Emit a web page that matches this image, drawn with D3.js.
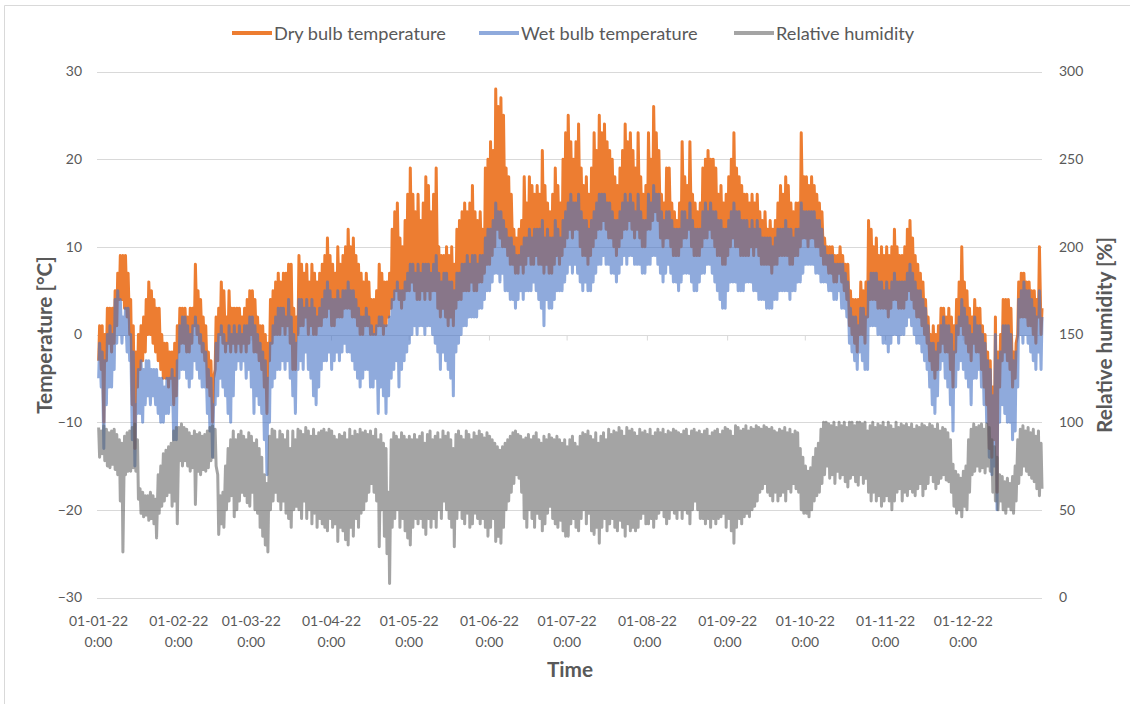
<!DOCTYPE html>
<html><head><meta charset="utf-8">
<script src="https://cdn.jsdelivr.net/npm/d3@7"></script>
<style>html,body{margin:0;padding:0;background:#fff;} svg{display:block;}</style>
</head><body><svg id="chart" width="1130" height="704"></svg>
<script>
// ---------- DATA (daily high / low, one value per day of 2022) ----------
const dryHi = [
 1,1,0,3,3,3,5,7,9,9,9,7,4,1,-2,0,1,2,4,6,5,4,3,3,0,-1,-1,-2,-2,-1,1,
 3,3,3,2,3,3,8,5,4,2,1,-2,-3,-5,2,3,6,5,2,5,3,3,3,3,2,3,4,5,
 5,4,2,1,1,0,-1,4,5,6,7,6,7,7,8,8,3,2,9,8,7,8,6,8,7,6,7,8,9,11,9,
 8,7,10,8,9,10,12,10,11,9,8,7,6,7,6,4,4,5,8,7,6,6,7,12,14,15,11,10,13,16,
 19,16,14,16,13,15,18,17,14,16,19,10,9,9,10,9,10,8,12,13,14,15,14,15,17,14,13,14,12,19,20,
 22,21,28,26,27,25,19,18,16,12,11,12,13,18,15,18,17,16,17,16,21,17,15,14,16,19,17,15,20,23,
 25,22,20,22,24,19,17,18,16,19,23,21,25,23,24,22,21,20,18,17,19,21,24,22,23,21,19,23,18,16,17,
 23,20,26,23,21,16,15,19,19,15,14,13,15,22,18,17,22,16,15,14,15,19,20,21,20,20,19,16,17,15,16,
 18,20,23,19,18,17,16,16,15,16,15,16,14,13,14,12,13,12,13,15,17,16,18,17,15,14,15,15,23,18,
 18,17,18,17,16,15,14,11,10,10,10,9,9,10,9,8,8,5,4,4,4,6,5,6,13,12,10,11,9,10,9,
 10,9,10,12,10,9,9,10,12,13,11,9,8,7,6,4,2,0,1,0,1,3,3,2,3,2,1,4,6,10,
 6,5,3,2,4,3,3,1,0,-2,-3,-6,2,-2,0,4,4,4,3,-2,-1,6,7,7,6,6,5,5,4,10,3
];
const dryLo = [
 -3,-4,-10,-3,-1,-2,-1,1,4,4,3,2,0,-8,-13,-6,-4,-3,-2,0,0,-1,-2,-3,-4,-5,-5,-6,-5,-8,-7,
 -2,-1,-1,-2,-2,-1,1,0,-1,-2,-3,-6,-7,-10,-4,-3,0,-1,-2,-1,-2,-1,-2,-1,-2,-1,-2,-1,
 0,-2,-2,-3,-4,-6,-9,-3,-1,0,0,0,1,0,1,-1,-4,-4,0,1,1,2,0,1,0,0,1,1,2,2,3,
 1,1,2,2,2,3,3,3,2,2,1,0,0,1,1,0,0,0,1,1,0,1,2,3,4,5,4,3,4,5,
 5,6,5,4,4,5,4,5,4,5,5,3,2,3,2,1,2,1,3,4,4,5,5,5,6,5,5,6,6,7,8,
 8,9,10,12,11,10,10,9,8,8,7,7,8,7,8,9,8,8,9,8,8,7,8,7,7,8,9,8,9,10,
 11,12,11,12,12,10,9,9,8,9,10,11,12,12,13,12,11,11,10,9,10,11,12,12,13,12,11,12,11,10,10,
 12,12,13,14,13,11,10,11,11,10,9,9,9,10,11,11,12,10,9,9,9,10,11,11,12,11,10,9,9,8,8,
 9,10,11,10,10,9,9,9,9,10,9,10,9,8,8,8,8,7,8,8,9,9,9,9,8,8,9,9,10,11,
 11,10,11,11,10,10,9,8,8,7,7,6,6,7,6,5,4,1,0,-1,-2,0,0,-1,2,4,4,4,3,3,3,
 3,2,3,4,4,3,3,3,4,5,4,3,2,2,1,0,-1,-3,-4,-5,-4,-2,-1,-2,-2,-4,-6,-2,0,1,
 0,-1,-2,-3,-1,-2,-2,-4,-6,-8,-13,-14,-12,-18,-6,-3,-2,-3,-4,-6,-5,0,2,2,2,1,1,0,-1,2,0
];
const wetHi = [
 -1,-2,-3,0,1,0,4,5,4,2,3,3,0,-2,-8,-4,-3,-4,-3,-3,-4,-4,-4,-5,-5,-6,-5,-5,-4,-5,-3,
 1,2,2,1,0,1,2,1,0,-1,-2,-4,-5,-8,-1,0,1,0,-1,1,0,1,0,1,0,1,1,2,
 2,1,0,-1,-2,-3,-5,-1,1,2,3,3,3,2,4,2,0,-1,4,4,3,4,3,4,3,2,3,4,5,6,5,
 4,4,5,4,5,5,6,5,5,4,3,2,2,3,2,1,0,1,2,2,1,1,2,4,5,6,5,5,6,7,
 8,8,7,8,7,8,8,8,7,8,9,7,6,7,7,6,6,5,7,7,8,8,9,8,9,9,8,9,9,11,12,
 12,13,15,14,14,13,12,11,11,10,9,9,10,11,11,12,11,12,12,12,13,11,12,11,11,13,12,11,13,14,
 15,16,15,15,16,14,13,13,12,13,14,15,16,16,16,15,15,14,13,13,14,15,16,15,16,15,14,16,14,13,13,
 16,15,17,16,16,14,13,14,14,13,12,12,12,14,14,13,15,13,12,12,12,14,15,14,15,14,14,13,13,12,12,
 13,14,15,14,14,13,13,13,12,13,12,13,12,11,11,11,11,10,11,12,12,12,13,12,12,11,12,12,15,14,
 14,14,14,14,13,13,12,10,9,9,9,8,8,8,8,7,6,3,2,2,1,3,3,2,6,7,7,7,6,6,5,
 6,5,6,7,6,6,6,6,7,8,7,6,5,5,4,3,1,-1,-1,-2,-1,1,2,1,1,0,-2,1,2,4,
 3,2,1,0,2,1,1,0,-1,-3,-4,-7,0,-3,-2,1,1,1,0,-3,-2,4,5,6,5,5,4,3,2,5,2
];
const wetLo = [
 -5,-6,-13,-8,-6,-6,-4,-1,0,-1,0,-2,-3,-12,-15,-9,-9,-10,-8,-7,-8,-7,-8,-9,-10,-10,-9,-9,-8,-12,-12,
 -5,-4,-4,-5,-6,-5,-3,-4,-5,-6,-6,-9,-11,-14,-8,-7,-5,-6,-7,-9,-10,-7,-4,-3,-4,-3,-5,-4,
 -6,-9,-7,-8,-9,-12,-16,-10,-6,-5,-4,-4,-3,-4,-3,-5,-7,-9,-4,-3,-4,-2,-4,-5,-7,-8,-6,-4,-3,-3,-2,
 -4,-3,-2,-3,-2,-1,-2,-2,-3,-4,-5,-6,-5,-4,-4,-6,-6,-5,-9,-6,-7,-9,-7,-5,-4,-3,-6,-4,-3,-2,
 -1,0,1,0,1,1,0,1,1,0,-1,-2,-4,-2,-3,-4,-5,-7,-2,-1,0,1,1,2,2,2,2,3,3,4,5,
 5,6,7,7,6,7,5,5,4,4,3,4,5,4,5,5,5,6,5,4,3,1,4,3,3,4,5,5,5,6,
 7,8,7,8,7,6,5,6,5,5,6,7,8,8,9,8,8,7,7,6,7,8,9,8,9,9,8,8,8,7,7,
 8,8,9,9,8,7,6,7,8,7,6,6,5,6,7,7,7,6,5,5,6,7,7,8,8,7,6,5,4,3,3,
 5,6,6,6,5,5,5,6,6,6,5,5,4,4,4,3,3,3,4,4,5,5,5,5,4,5,5,6,6,7,
 8,8,8,8,7,7,6,6,6,5,5,4,4,5,3,3,2,-1,-2,-3,-4,-2,-3,-4,-4,1,1,1,0,0,-1,
 -1,-2,-1,0,0,-1,0,0,1,2,1,0,-1,-1,-2,-3,-4,-6,-8,-9,-7,-4,-3,-5,-6,-8,-11,-6,-4,-3,
 -4,-5,-6,-8,-5,-5,-4,-6,-8,-10,-14,-16,-15,-20,-10,-8,-9,-10,-10,-12,-11,-6,0,-1,0,-1,-2,-3,-4,-2,-4
];
const rhHi = [
 97,95,98,96,94,95,96,93,90,88,92,94,95,97,99,90,62,60,58,58,60,58,56,70,75,82,84,86,88,95,97,
 97,99,97,96,94,92,95,93,94,92,93,95,97,98,96,70,58,60,75,85,90,95,90,93,95,92,90,94,
 92,88,90,85,80,70,65,92,96,95,90,95,93,90,95,85,95,90,96,95,93,97,95,92,96,92,94,95,96,94,96,
 95,92,90,93,92,94,90,96,92,95,93,96,94,95,93,95,92,96,90,93,88,85,60,90,94,92,90,94,92,90,
 92,90,93,90,92,94,88,93,95,90,92,94,90,95,92,94,90,85,93,95,92,90,95,93,90,94,92,95,93,91,94,
 92,90,88,86,84,86,88,90,92,94,95,93,92,90,91,93,90,92,94,90,88,92,90,93,91,90,92,90,88,90,
 86,90,92,88,86,92,94,93,95,92,90,94,88,92,94,90,96,93,95,94,97,95,92,97,95,96,94,92,96,94,95,
 93,96,92,94,96,94,96,93,95,94,96,95,94,93,95,96,92,95,96,94,95,93,95,96,92,94,95,96,93,95,97,
 96,95,92,98,97,95,96,98,95,97,96,98,97,96,98,97,96,97,95,94,96,95,97,94,96,93,95,94,85,80,
 75,72,74,80,85,88,96,100,100,99,98,100,97,100,98,100,97,100,100,98,100,100,99,100,95,98,100,97,99,98,100,
 97,100,98,96,100,97,99,98,99,97,99,96,98,97,99,98,97,99,98,96,99,95,97,96,94,90,76,72,70,68,
 72,75,90,96,99,97,98,99,96,99,97,90,86,80,70,69,66,68,65,69,75,90,96,98,95,97,94,96,92,95,88
];
const rhLo = [
 80,82,78,75,74,76,73,70,55,26,70,72,72,74,72,56,48,46,47,44,45,42,34,48,52,55,58,60,52,55,42,
 78,75,78,75,72,74,53,72,70,73,72,74,78,80,75,36,42,40,50,55,58,46,50,55,60,58,54,52,
 60,50,48,40,35,30,26,50,55,60,55,50,55,48,45,40,50,52,50,45,55,45,50,42,48,40,45,42,40,38,45,
 40,42,32,40,38,33,30,40,35,45,40,48,50,55,60,65,60,55,29,50,35,25,8,40,45,50,40,45,38,34,
 30,40,45,42,45,40,36,45,40,45,40,50,45,55,50,45,40,29,45,50,45,42,48,40,42,48,45,42,45,40,35,
 40,45,32,35,31,40,50,55,60,65,70,68,60,45,40,50,45,40,48,45,38,42,48,52,45,42,40,44,38,35,
 35,42,45,40,38,45,50,42,48,38,36,40,31,40,45,38,42,45,40,38,44,40,35,42,38,40,38,40,45,48,42,
 42,45,40,45,48,50,46,42,45,50,48,45,50,45,50,48,42,50,55,50,45,45,42,45,40,45,42,45,46,48,40,
 45,38,31,40,45,42,46,48,46,50,52,55,60,62,65,60,58,55,60,55,58,60,55,62,60,65,62,60,50,48,
 48,46,50,55,58,60,65,70,75,68,70,65,72,68,70,66,63,68,70,66,64,70,65,68,60,55,60,55,58,52,55,
 58,55,50,55,60,62,55,60,58,62,60,58,62,65,58,62,65,70,66,62,65,68,70,67,66,60,52,48,50,46,
 52,50,60,70,72,75,72,74,71,75,72,60,55,50,55,50,48,52,50,48,55,65,70,75,72,70,68,66,62,58,62
];

const seriesNames = ["Dry bulb temperature", "Wet bulb temperature", "Relative humidity"];
const seriesColors = ["#ED7D31", "#4472C4", "#595959"];
const seriesOpacity = [1, 0.6, 0.55];
const monthTicks = ["2022-01-01","2022-02-01","2022-03-01","2022-04-01","2022-05-01","2022-06-01",
                    "2022-07-01","2022-08-01","2022-09-01","2022-10-01","2022-11-01","2022-12-01"];
const monthLabels = ["01-01-22","01-02-22","01-03-22","01-04-22","01-05-22","01-06-22",
                     "01-07-22","01-08-22","01-09-22","01-10-22","01-11-22","01-12-22"];
const timeLabel = "0:00";
const tempTicks = [-30, -20, -10, 0, 10, 20, 30];
const rhTicks = [0, 50, 100, 150, 200, 250, 300];

// ---------- CHART ----------
const FONT = "Lato, 'Open Sans', sans-serif";
const TXT = "#595959";
const GRID = "#D9D9D9";
const svg = d3.select("#chart").attr("font-family", FONT);

const x = d3.scaleUtc()
  .domain([new Date(Date.UTC(2022, 0, 1)), new Date(Date.UTC(2023, 0, 1))])
  .range([98, 1043]);
const yT = d3.scaleLinear().domain([-30, 30]).range([597.5, 71.5]);
const yR = d3.scaleLinear().domain([0, 300]).range([597.5, 71.5]);
const plotL = 97, plotR = 1042;

function fit(str, target, weight) {
  const t = svg.append("text").attr("font-size", 100).attr("font-weight", weight || 400).text(str);
  const w = t.node().getComputedTextLength();
  t.remove();
  return 100 * target / w;
}
const fsTick = fit("01-01-22", 59);
const fsLeg = fit("Dry bulb temperature", 172);
const fsTitle = fit("Relative humidity [%]", 196, 700);

// frame
svg.append("path").attr("d", "M4.5,704 V5.5 H1130").attr("fill", "none").attr("stroke", GRID);

// gridlines
svg.append("g").selectAll("line").data(tempTicks).join("line")
  .attr("x1", plotL).attr("x2", plotR)
  .attr("y1", d => Math.round(yT(d)) + 0.5).attr("y2", d => Math.round(yT(d)) + 0.5)
  .attr("stroke", GRID).attr("stroke-width", 1);

const monthDates = monthTicks.map(s => new Date(s + "T00:00:00Z"));

// small month tick marks on the zero line
const tickAxis = svg.append("g").attr("transform", `translate(0,${Math.round(yT(0)) + 0.5})`)
  .call(d3.axisBottom(x).tickValues(monthDates).tickSize(5).tickFormat(""));
tickAxis.select(".domain").remove();
tickAxis.selectAll("line").attr("stroke", GRID);

// series
const day = 864e5, t0 = Date.UTC(2022, 0, 1);
function tempSeries(hi, lo) {
  const pts = [];
  hi.forEach((h, i) => {
    pts.push({ t: new Date(t0 + (i + 0.25) * day), v: lo[i] });
    pts.push({ t: new Date(t0 + (i + 0.62) * day), v: h });
  });
  return pts;
}
function rhSeries(hi, lo) {
  const pts = [];
  hi.forEach((h, i) => {
    pts.push({ t: new Date(t0 + (i + 0.25) * day), v: h });
    pts.push({ t: new Date(t0 + (i + 0.62) * day), v: lo[i] });
  });
  return pts;
}
const dryPts = tempSeries(dryHi, dryLo);
const wetPts = tempSeries(wetHi, wetLo);
const rhPts = rhSeries(rhHi, rhLo);

const lineT = d3.line().x(d => x(d.t)).y(d => yT(d.v));
const lineR = d3.line().x(d => x(d.t)).y(d => yR(d.v));

[[dryPts, lineT], [wetPts, lineT], [rhPts, lineR]].forEach(([pts, gen], i) => {
  svg.append("path").datum(pts)
    .attr("d", gen)
    .attr("fill", "none")
    .attr("stroke", seriesColors[i])
    .attr("stroke-opacity", seriesOpacity[i])
    .attr("stroke-width", 3)
    .attr("stroke-linejoin", "round");
});

// left axis
const gL = svg.append("g").attr("transform", "translate(82,0)")
  .call(d3.axisLeft(yT).tickValues(tempTicks).tickSize(0).tickPadding(0));
gL.attr("font-family", FONT).attr("font-size", fsTick);
gL.select(".domain").remove();
gL.selectAll("text").attr("fill", TXT);

// right axis
const gR = svg.append("g").attr("transform", "translate(1059,0)")
  .call(d3.axisRight(yR).tickValues(rhTicks).tickSize(0).tickPadding(0));
gR.attr("font-family", FONT).attr("font-size", fsTick);
gR.select(".domain").remove();
gR.selectAll("text").attr("fill", TXT);

// bottom labels (two lines)
const gB = svg.append("g").attr("transform", "translate(0,597.5)")
  .call(d3.axisBottom(x).tickValues(monthDates).tickSize(0).tickFormat((d, i) => monthLabels[i]));
gB.attr("font-family", FONT).attr("font-size", fsTick);
gB.select(".domain").remove();
gB.selectAll(".tick text").each(function (d, i) {
  const t = d3.select(this);
  t.text(null).attr("y", 0).attr("dy", null).attr("fill", TXT);
  t.append("tspan").attr("x", 0).attr("y", 28).text(monthLabels[i]);
  t.append("tspan").attr("x", 0).attr("y", 49).text(timeLabel);
});

// axis titles
svg.append("text").attr("transform", "translate(43,335) rotate(-90)")
  .attr("text-anchor", "middle").attr("dominant-baseline", "central")
  .attr("font-weight", 700).attr("font-size", fsTitle).attr("fill", TXT)
  .text("Temperature [°C]");
svg.append("text").attr("transform", "translate(1103,335) rotate(-90)")
  .attr("text-anchor", "middle").attr("dominant-baseline", "central")
  .attr("font-weight", 700).attr("font-size", fsTitle).attr("fill", TXT)
  .text("Relative humidity [%]");
svg.append("text").attr("x", 570).attr("y", 668)
  .attr("text-anchor", "middle").attr("dominant-baseline", "central")
  .attr("font-weight", 700).attr("font-size", fsTitle).attr("fill", TXT)
  .text("Time");

// legend
const legX = [232, 479, 734];
const leg = svg.append("g").selectAll("g").data(seriesNames).join("g")
  .attr("transform", (d, i) => `translate(${legX[i]},33)`);
leg.append("line").attr("x1", 0).attr("x2", 40).attr("y1", 0).attr("y2", 0)
  .attr("stroke", (d, i) => seriesColors[i])
  .attr("stroke-opacity", (d, i) => seriesOpacity[i])
  .attr("stroke-width", 4);
leg.append("text").attr("x", 42).attr("y", 0).attr("dominant-baseline", "central")
  .attr("font-size", fsLeg).attr("fill", TXT).text(d => d);
</script>
</body></html>
